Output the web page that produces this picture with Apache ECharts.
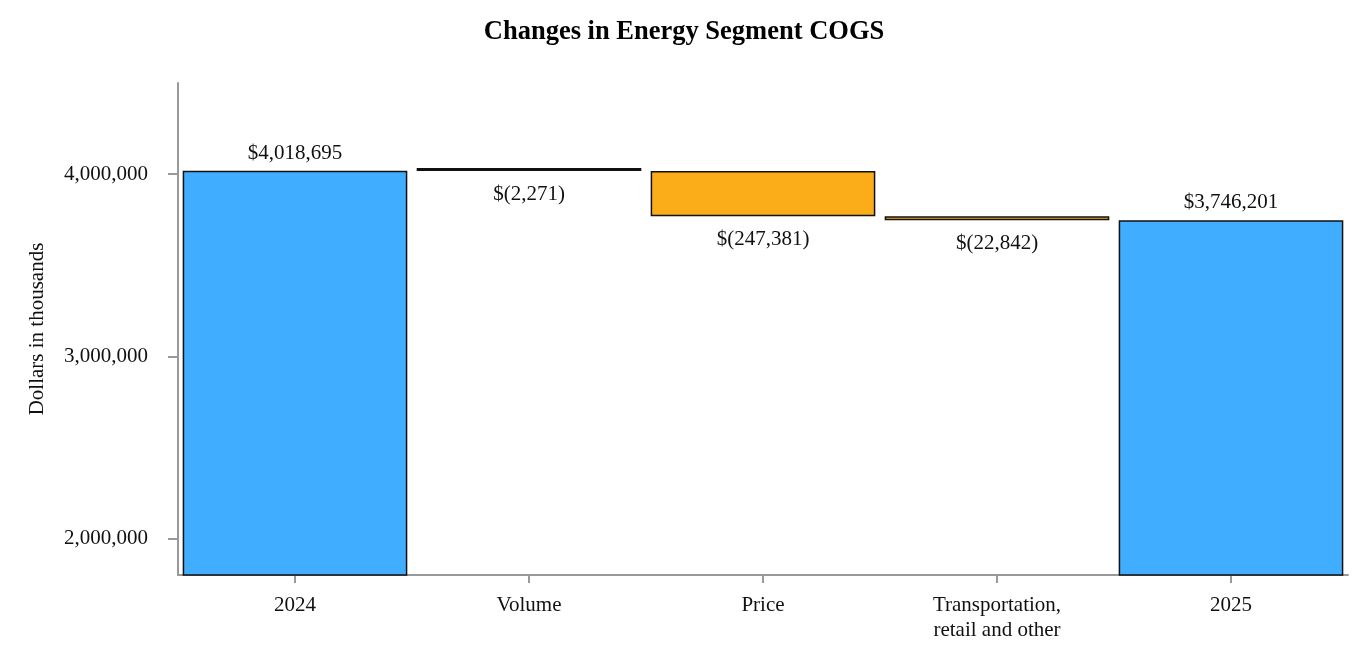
<!DOCTYPE html>
<html>
<head>
<meta charset="utf-8">
<script src="https://cdn.jsdelivr.net/npm/echarts@6/dist/echarts.min.js"></script>
<style>
html,body{margin:0;padding:0;background:#fff;}
#chart{width:1368px;height:660px;}
</style>
</head>
<body>
<div id="chart"></div>
<script>
// Data
const categories = ['2024', 'Volume', 'Price', 'Transportation,\nretail and other', '2025'];
const startTotal = 4018695;
const changes = [-2271, -247381, -22842];
const endTotal = 3746201;
const yTicks = [2000000, 3000000, 4000000];

// Build waterfall (base + delta)
const kinds = ['total', 'change', 'change', 'change', 'total'];
const rawValues = [startTotal].concat(changes, [endTotal]);
const baseData = [];
const deltaData = [];
let running = startTotal;
rawValues.forEach(function (v, i) {
  if (kinds[i] === 'total') {
    baseData.push(0);
    deltaData.push(v);
    if (i === 0) running = v;
  } else {
    const next = running + v;
    baseData.push(Math.min(running, next));
    deltaData.push(Math.abs(v));
    running = next;
  }
});

function fmt(n) {
  return Math.abs(n).toString().replace(/\B(?=(\d{3})+(?!\d))/g, ',');
}

const BLUE = '#40ADFF';
const ORANGE = '#FAAD19';
const EDGE = '#111';
const FONT = 'Liberation Serif';

const deltaSeries = deltaData.map(function (v, i) {
  const isTotal = kinds[i] === 'total';
  const raw = rawValues[i];
  // a bar thinner than its outline reads as a solid dark line
  const tiny = !isTotal && Math.abs(raw) < 10000;
  return {
    value: v,
    itemStyle: { color: isTotal ? BLUE : (tiny ? EDGE : ORANGE), borderColor: EDGE, borderWidth: 1.5 },
    label: {
      show: true,
      position: isTotal ? 'top' : 'bottom',
      distance: isTotal ? 7 : 13,
      formatter: isTotal ? ('$' + fmt(raw)) : ('$(' + fmt(raw) + ')'),
      fontFamily: FONT,
      fontSize: 21,
      color: '#111'
    }
  };
});

const chart = echarts.init(document.getElementById('chart'), null, { renderer: 'canvas' });
chart.setOption({
  animation: false,
  backgroundColor: '#fff',
  title: {
    text: 'Changes in Energy Segment COGS',
    left: 'center',
    top: 14,
    textStyle: { fontFamily: FONT, fontSize: 26.5, fontWeight: 'bold', color: '#000' }
  },
  grid: { left: 178, right: 20, top: 83, bottom: 85, containLabel: false },
  xAxis: {
    type: 'category',
    data: categories,
    axisLine: { show: true, lineStyle: { color: '#999', width: 2 } },
    axisTick: { show: true, alignWithLabel: true, length: 8, lineStyle: { color: '#999', width: 2 } },
    axisLabel: { fontFamily: FONT, fontSize: 21, color: '#111', margin: 18, lineHeight: 25, interval: 0 }
  },
  yAxis: {
    type: 'value',
    min: 1800000,
    max: 4500000,
    name: 'Dollars in thousands',
    nameLocation: 'middle',
    nameGap: 130,
    nameRotate: 90,
    nameTextStyle: { fontFamily: FONT, fontSize: 21, color: '#111' },
    axisLine: { show: true, lineStyle: { color: '#999', width: 2 } },
    axisTick: { show: true, length: 10, customValues: yTicks, lineStyle: { color: '#999', width: 2 } },
    axisLabel: {
      fontFamily: FONT, fontSize: 21, color: '#111', margin: 30,
      customValues: yTicks,
      formatter: function (v) { return fmt(v); }
    },
    splitLine: { show: false }
  },
  series: [
    {
      type: 'bar',
      stack: 'wf',
      data: baseData,
      itemStyle: { color: 'transparent', borderColor: 'transparent' },
      emphasis: { disabled: true },
      silent: true,
      barCategoryGap: '4%'
    },
    {
      type: 'bar',
      stack: 'wf',
      data: deltaSeries,
      barMinHeight: 3,
      barCategoryGap: '4%'
    }
  ]
});
</script>
</body>
</html>
